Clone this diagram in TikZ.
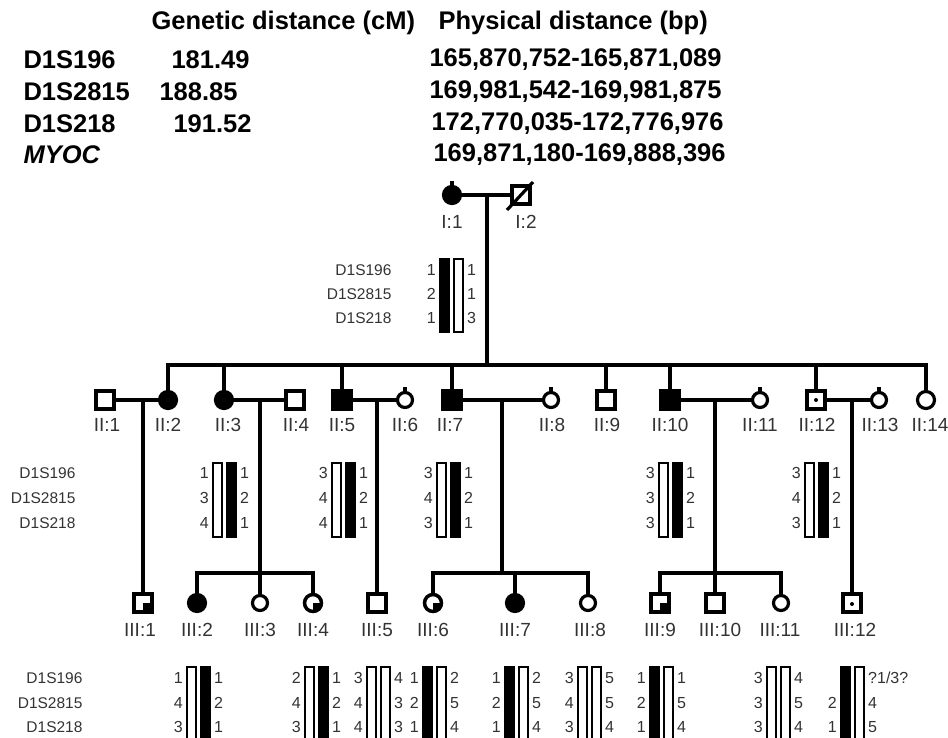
\documentclass[tikz,border=0pt]{standalone}
\usepackage{fontspec}
\setmainfont{Liberation Sans}
\usetikzlibrary{backgrounds}

\begin{document}
\begin{tikzpicture}[
        x=1pt, y=-1pt,
        line/.style={line width=3.2pt},
        male/.style={draw, rectangle, minimum size=18pt, inner sep=0pt, line width=3.2pt, fill=white},
        female/.style={draw, circle, minimum size=15pt, inner sep=0pt, line width=3.2pt, fill=white},
        affected/.style={fill=black},
        head/.style={anchor=west, font=\bfseries\fontsize{25.5}{25.5}\selectfont},
        idlabel/.style={font=\fontsize{19}{19}\selectfont, text=black!80},
        markerlabel/.style={anchor=east, font=\fontsize{15.5}{16}\selectfont, text=black!80},
        allele/.style={font=\fontsize{16}{16}\selectfont, text=black!80, inner sep=1pt},
        hapbar/.style={draw, line width=1.4pt}
    ]
    \useasboundingbox (0,0) rectangle (948,738);
    \fill[white] (0,0) rectangle (948,738);

    % marker table
    \node[head] (hgen) at (148,23) {Genetic distance (cM)};
    \node[head] (hphys) at (435,23) {Physical distance (bp)};
    \node[head] (m1) at (20,60) {D1S196};
    \node[head] (g1) at (168,60) {181.49};
    \node[head] (p1) at (426,60) {165,870,752-165,871,089};
    \node[head] (m2) at (20,92) {D1S2815};
    \node[head] (g2) at (156,92) {188.85};
    \node[head] (p2) at (426,92) {169,981,542-169,981,875};
    \node[head] (m3) at (20,124) {D1S218};
    \node[head] (g3) at (170,124) {191.52};
    \node[head] (p3) at (428,124) {172,770,035-172,776,976};
    \node[head] (m4) at (20,155) {\itshape MYOC};
    \node[head] (p4) at (430,155) {169,871,180-169,888,396};

    % generation I
    \node[female, affected, minimum size=17pt] (I1) at (452,195) {};
    \node[male] (I2) at (521,195) {};
    \draw[line] (I1) -- (I2);
    \draw[line] (I1.north) -- ++(0,-4);
    \draw[line] (507,210) -- (533,182);
    \node[idlabel] (lI1) at (452,222) {I:1};
    \node[idlabel] (lI2) at (526,222) {I:2};
    \coordinate (c1) at (487,195);
    \coordinate (s2) at (487,365);
    \draw[line] (c1) -- (s2);

    % generation II
    \node[male] (II1) at (105,400) {};
    \node[female, affected, minimum size=17pt] (II2) at (168,400) {};
    \node[female, affected, minimum size=17pt] (II3) at (224,400) {};
    \node[male] (II4) at (295,400) {};
    \node[male, affected] (II5) at (342,400) {};
    \node[female] (II6) at (405,400) {};
    \node[male, affected] (II7) at (452,400) {};
    \node[female] (II8) at (551,400) {};
    \node[male] (II9) at (606,400) {};
    \node[male, affected] (II10) at (670,400) {};
    \node[female] (II11) at (760,400) {};
    \node[male] (II12) at (816,400) {};
    \node[female] (II13) at (879,400) {};
    \node[female, minimum size=17pt] (II14) at (926,400) {};
    \fill (II12.center) circle (2pt);
    \foreach \n in {II6,II8,II11,II13}
        \draw[line] (\n.north) -- ++(0,-4);
    \foreach \n in {II2,II3,II5,II7,II9,II10,II12,II14}
        \draw[line] (\n) |- (s2);
    \draw[line] (II1) -- (II2);
    \draw[line] (II3) -- (II4);
    \draw[line] (II5) -- (II6);
    \draw[line] (II7) -- (II8);
    \draw[line] (II10) -- (II11);
    \draw[line] (II12) -- (II13);
    \foreach \n/\x/\t in {II1/107/II:1, II2/168/II:2, II3/228/II:3, II4/296/II:4, II5/342/II:5,
        II6/405/II:6, II7/450/II:7, II8/552/II:8, II9/607/II:9, II10/670/II:10,
        II11/760/II:11, II12/817/II:12, II13/880/II:13, II14/930/II:14}
        \node[idlabel] (l\n) at (\x,425) {\t};

    % generation III
    \node[male] (III1) at (143,603) {};
    \node[female, affected, minimum size=17pt] (III2) at (197,603) {};
    \node[female] (III3) at (260,603) {};
    \node[female, minimum size=17pt] (III4) at (313,603) {};
    \node[male] (III5) at (377,603) {};
    \node[female, minimum size=17pt] (III6) at (433,603) {};
    \node[female, affected, minimum size=17pt] (III7) at (515,603) {};
    \node[female] (III8) at (588,603) {};
    \node[male] (III9) at (660,603) {};
    \node[male] (III10) at (715,603) {};
    \node[female] (III11) at (781,603) {};
    \node[male] (III12) at (852,603) {};
    \fill (III12.center) ++(0,1) circle (2pt);
    \foreach \n in {III1,III9}
        \fill (\n.center) rectangle ++(6.5,6.5);
    \foreach \n in {III4,III6}
        \fill (\n.center) -- (\n.east) -- ([xshift=-0.1pt]\n.south east) -- (\n.south) -- cycle;
    \foreach \n in {III4,III6}
        \node[female, fill=none, minimum size=17pt] (o\n) at (\n) {};

    \coordinate (c21) at (143,400);
    \coordinate (c23) at (260,400);
    \coordinate (c25) at (377,400);
    \coordinate (c27) at (502,400);
    \coordinate (c210) at (715,400);
    \coordinate (c212) at (852,400);
    \coordinate (s31) at (260,573);
    \coordinate (s32) at (502,573);
    \coordinate (s33) at (715,573);
    \draw[line] (c21) -- (III1);
    \draw[line] (c25) -- (III5);
    \draw[line] (c212) -- (III12);
    \draw[line] (c23) -- (s31);
    \draw[line] (c27) -- (s32);
    \draw[line] (c210) -- (s33);
    \foreach \n in {III2,III3,III4}
        \draw[line] (\n) |- (s31);
    \foreach \n in {III6,III7,III8}
        \draw[line] (\n) |- (s32);
    \foreach \n in {III9,III10,III11}
        \draw[line] (\n) |- (s33);
    \foreach \n/\x/\t in {III1/140/III:1, III2/197/III:2, III3/260/III:3, III4/313/III:4,
        III5/377/III:5, III6/433/III:6, III7/515/III:7, III8/590/III:8, III9/660/III:9,
        III10/720/III:10, III11/780/III:11, III12/855/III:12}
        \node[idlabel] (l\n) at (\x,630) {\t};

    % haplotypes
    \node[markerlabel] (hI1) at (395,270) {D1S196};
    \node[markerlabel] (hI2) at (395,294) {D1S2815};
    \node[markerlabel] (hI3) at (395,318) {D1S218};
    \draw[hapbar, fill=black] (440,259) rectangle ++(9,73);
    \draw[hapbar, fill=white] (454,259) rectangle ++(9,73);
    \node[allele, anchor=east] (aI1) at (437,270) {1};
    \node[allele, anchor=east] (aI2) at (437,294) {2};
    \node[allele, anchor=east] (aI3) at (437,318) {1};
    \node[allele, anchor=west] (bI1) at (466,270) {1};
    \node[allele, anchor=west] (bI2) at (466,294) {1};
    \node[allele, anchor=west] (bI3) at (466,318) {3};

    \node[markerlabel] (hII1) at (79,473) {D1S196};
    \node[markerlabel] (hII2) at (79,498) {D1S2815};
    \node[markerlabel] (hII3) at (79,523) {D1S218};
    \foreach \l/\fa/\fb/\a/\b/\c/\d/\e/\f in {213/white/black/1/3/4/1/2/1,
        332/white/black/3/4/4/1/2/1, 437/white/black/3/4/3/1/2/1,
        659/white/black/3/3/3/1/2/1, 805/white/black/3/4/3/1/2/1}{
        \draw[hapbar, fill=\fa] (\l,463) rectangle ++(9,74);
        \draw[hapbar, fill=\fb] (\l+14,463) rectangle ++(9,74);
        \node[allele, anchor=east] (a\l-1) at (\l-3,473) {\a};
        \node[allele, anchor=east] (a\l-2) at (\l-3,498) {\b};
        \node[allele, anchor=east] (a\l-3) at (\l-3,523) {\c};
        \node[allele, anchor=west] (b\l-1) at (\l+26,473) {\d};
        \node[allele, anchor=west] (b\l-2) at (\l+26,498) {\e};
        \node[allele, anchor=west] (b\l-3) at (\l+26,523) {\f};
    }

    \node[markerlabel] (hIII1) at (86,678) {D1S196};
    \node[markerlabel] (hIII2) at (86,703) {D1S2815};
    \node[markerlabel] (hIII3) at (86,727) {D1S218};
    \foreach \l/\fa/\fb/\a/\b/\c/\d/\e/\f in {187/white/black/1/4/3/1/2/1,
        305/white/black/2/4/3/1/2/1, 367/white/white/3/4/4/4/3/3,
        423/black/white/1/2/1/2/5/4, 505/black/white/1/2/1/2/5/4,
        578/white/white/3/4/3/5/5/4, 650/black/white/1/2/1/1/5/4,
        767/white/white/3/3/3/4/5/4, 841/black/white/{}/2/1/{?1/3?}/4/5}{
        \draw[hapbar, fill=\fa] (\l,667) rectangle ++(9,80);
        \draw[hapbar, fill=\fb] (\l+14,667) rectangle ++(9,80);
        \node[allele, anchor=east] (a\l-1) at (\l-3,678) {\a};
        \node[allele, anchor=east] (a\l-2) at (\l-3,703) {\b};
        \node[allele, anchor=east] (a\l-3) at (\l-3,727) {\c};
        \node[allele, anchor=west] (b\l-1) at (\l+26,678) {\d};
        \node[allele, anchor=west] (b\l-2) at (\l+26,703) {\e};
        \node[allele, anchor=west] (b\l-3) at (\l+26,727) {\f};
    }
\end{tikzpicture}
\end{document}
